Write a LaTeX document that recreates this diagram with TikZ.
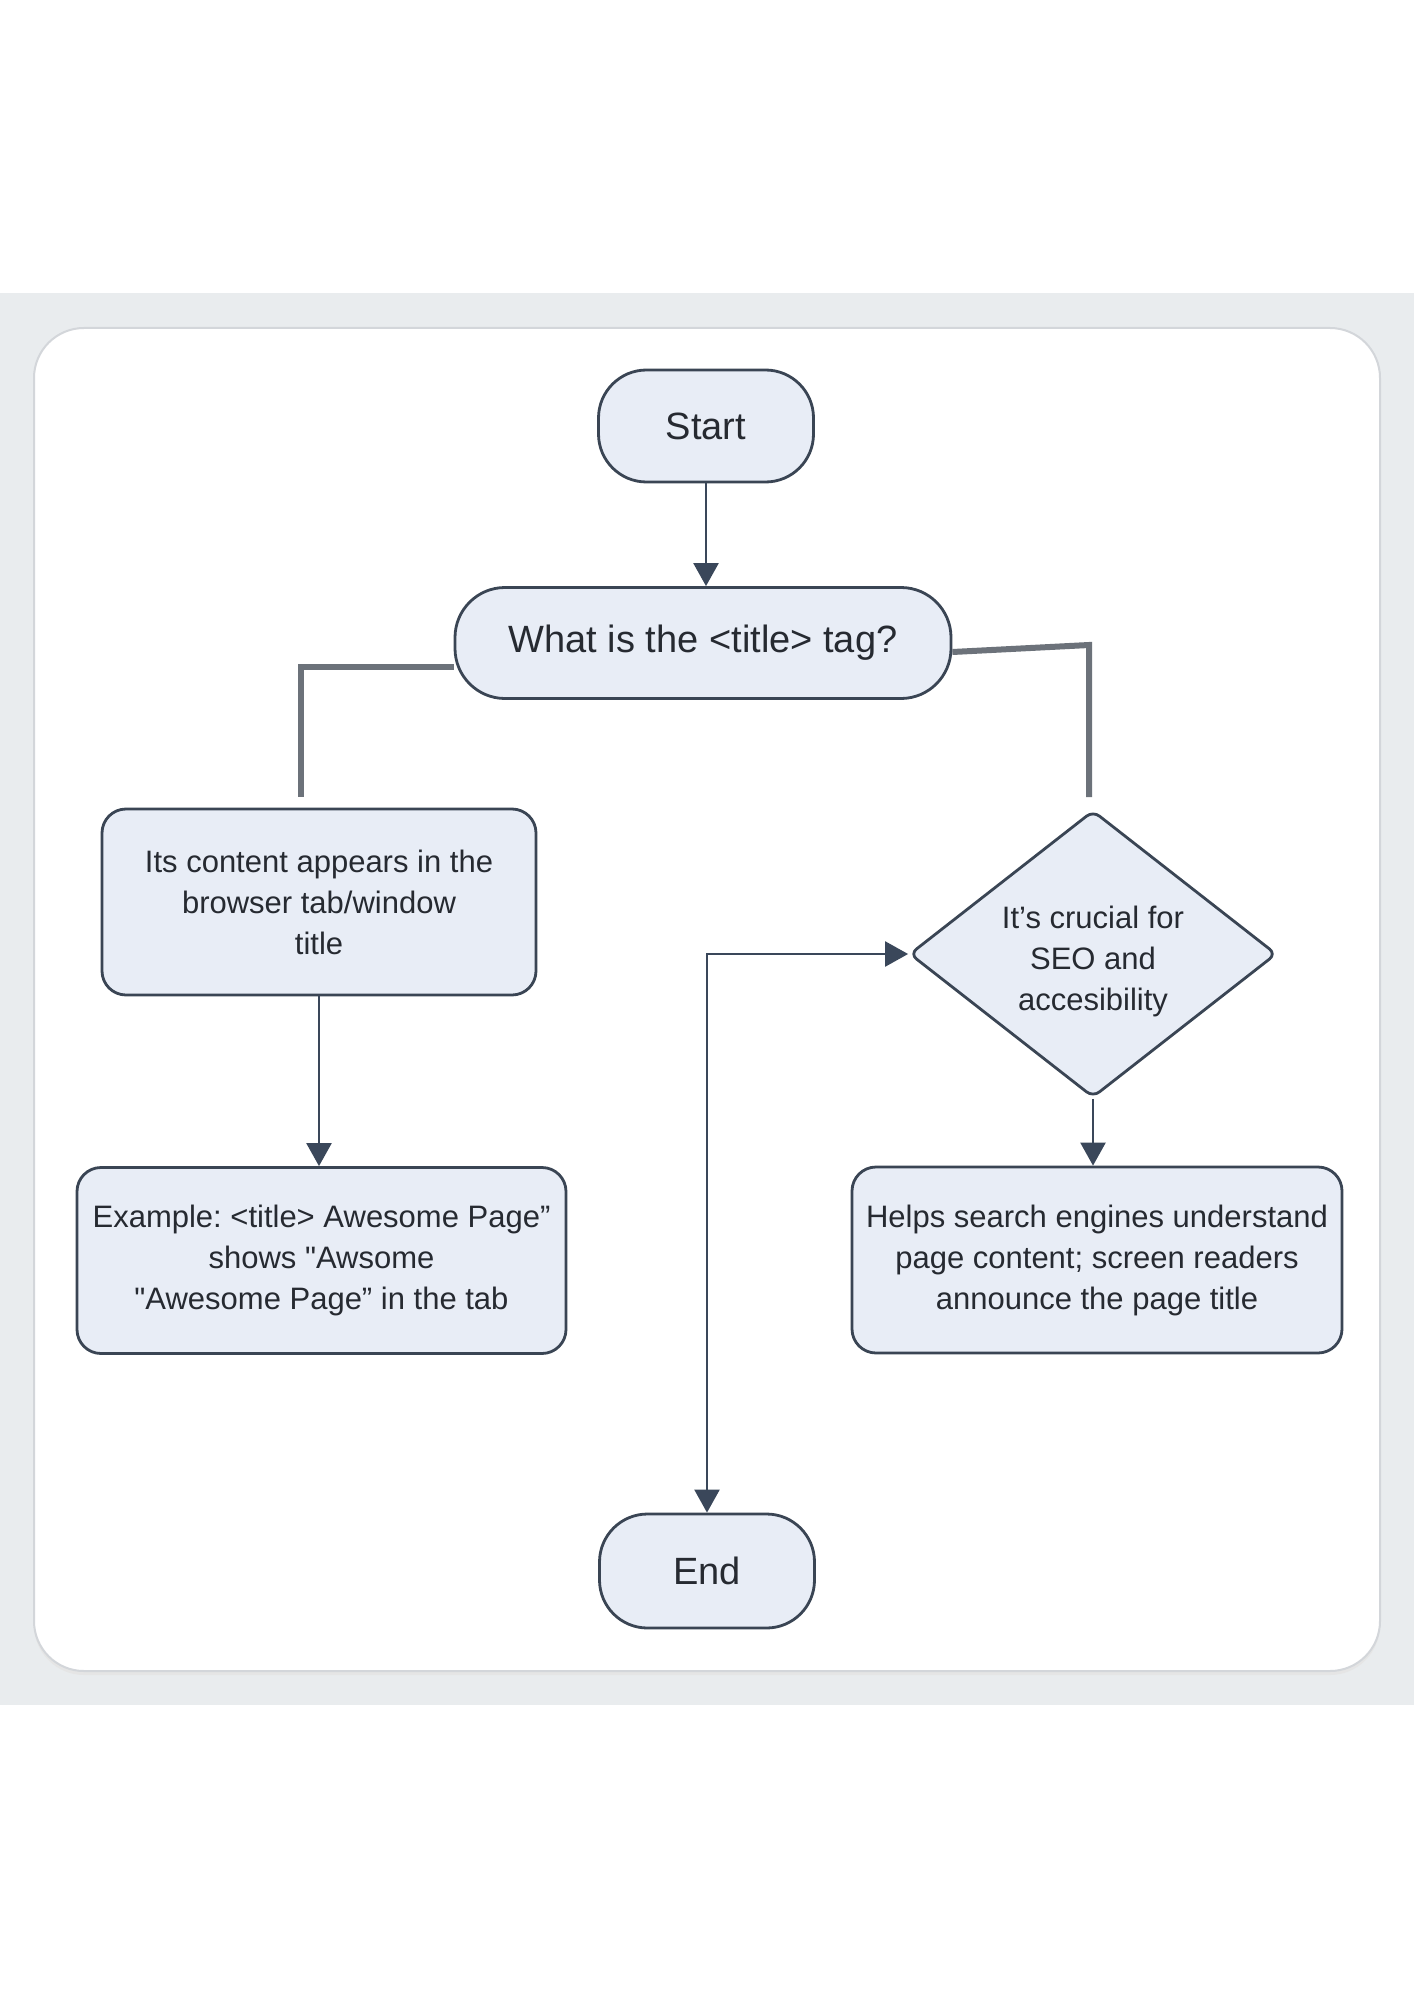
\documentclass[tikz,border=0pt]{standalone}
\usepackage{fontspec}
\setmainfont{Liberation Sans}[Ligatures=TeXOff]
\usetikzlibrary{shapes.geometric,arrows.meta,calc}
\frenchspacing

\definecolor{band}{HTML}{E9ECEE}
\definecolor{cardline}{HTML}{D3D6DA}
\definecolor{nodefill}{HTML}{E8EDF6}
\definecolor{nodeline}{HTML}{3A4554}
\definecolor{arrowc}{HTML}{3A475A}
\definecolor{branch}{HTML}{6C727A}
\definecolor{ink}{HTML}{262A31}

\begin{document}
\begin{tikzpicture}[x=0.5pt,y=-0.5pt,
  base/.style={draw=nodeline, line width=1.4pt, fill=nodefill, text=ink,
    align=center, inner sep=0pt},
  bigtext/.style={font=\fontsize{19pt}{23pt}\selectfont},
  smalltext/.style={font=\fontsize{15.5pt}{20.5pt}\selectfont},
  term/.style={base, bigtext, rounded corners=24pt,
    minimum width=107.5pt, minimum height=56pt},
  question/.style={base, bigtext, rounded corners=25pt,
    minimum width=248pt, minimum height=55.5pt},
  infobox/.style={base, smalltext, rounded corners=12pt, minimum height=93pt},
  decision/.style={base, diamond, aspect=1.28, rounded corners=4pt,
    minimum width=183.5pt, minimum height=143.5pt},
  label/.style={smalltext, text=ink, align=center, inner sep=0pt},
  flow/.style={draw=arrowc, line width=1.2pt,
    -{Triangle[width=12.5pt,length=11.5pt]}},
  loopflow/.style={draw=arrowc, line width=1.2pt,
    {Triangle[width=12.5pt,length=11.5pt]}-{Triangle[width=12.5pt,length=11.5pt]}},
  branchline/.style={draw=branch, line width=3pt}
]

% page, grey band and card
\fill[white] (0,0) rectangle (1414,2000);
\fill[band] (0,293) rectangle (1414,1705);
\fill[black!10, rounded corners=25pt] (34,331) rectangle (1380,1675);
\draw[cardline, fill=white, line width=1pt, rounded corners=25pt]
  (34,328) rectangle (1380,1671);

% nodes
\node[term] (start) at (706,426) {Start};
\node[question] (q) at (703,643) {What is the <title> tag?};
\node[infobox, minimum width=217pt] (b1) at (319,902)
  {Its content appears in the\\ browser tab/window\\ title};
\node[infobox, minimum width=244.5pt] (b2) at (321.5,1260.5)
  {Example: <title> Awesome Page”\\ shows "Awsome\\ "Awesome Page” in the tab};
\node[decision] (dia) at (1093,954) {};
\node[label] (diatext) at ([yshift=-3.5pt]dia.center)
  {It’s crucial for\\ SEO and\\ accesibility};
\node[infobox, minimum width=245pt] (b3) at (1097,1260)
  {Helps search engines understand\\ page content; screen readers\\ announce the page title};
\node[term, minimum height=57pt] (end) at (707,1571) {End};

% branch stubs from the question
\coordinate (lEnd) at (301,797);
\coordinate (rTurn) at (1089,645);
\coordinate (rEnd) at (1089,797);
\draw[branchline] ([yshift=-12pt]q.west) -| (lEnd);
\draw[branchline] ([yshift=-4.5pt]q.east) -- (rTurn) -- (rEnd);

% arrows
\draw[flow] (start.south) -- (start.south |- q.north);
\draw[flow] (b1.south) -- (b1.south |- b2.north);
\draw[flow] (dia.south) -- (dia.south |- b3.north);
\draw[loopflow] (dia.west) -| (end.north);

\end{tikzpicture}
\end{document}
